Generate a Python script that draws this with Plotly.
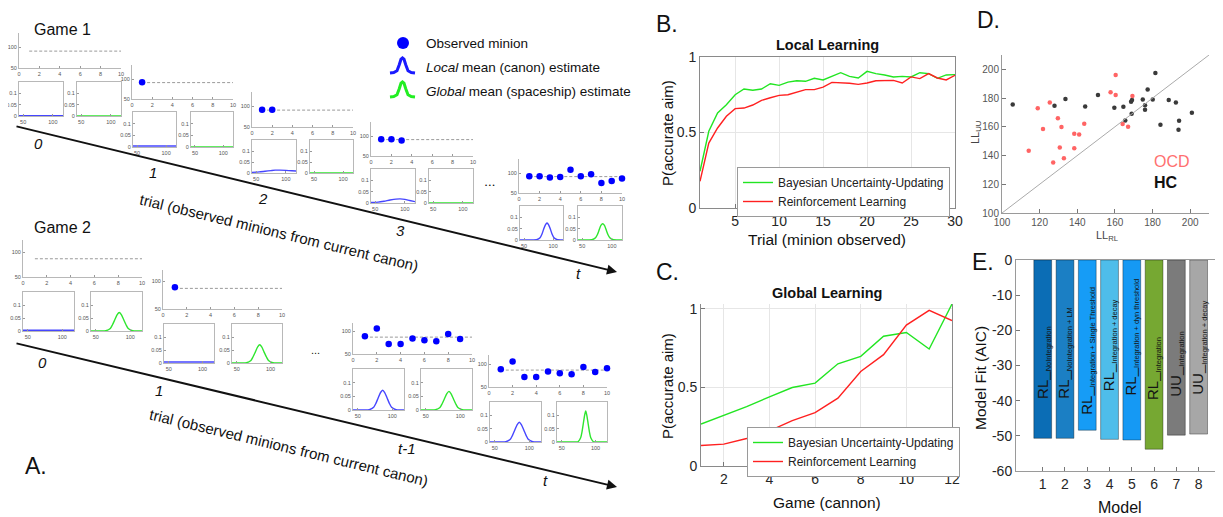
import plotly.graph_objects as go

# page body adds an 8px margin: figure is sized/positioned to compensate
OFF = 8
W, H = 1223 - OFF, 517 - OFF
FONT = "Liberation Sans, Arial, Helvetica, sans-serif"

# ---------------- Panel B: local learning ----------------
trial_b = list(range(1, 31))
local_uu = [0.243, 0.508, 0.63, 0.684, 0.75, 0.788, 0.78, 0.788, 0.823, 0.812,
            0.834, 0.843, 0.839, 0.859, 0.848, 0.874, 0.896, 0.872, 0.861, 0.905,
            0.89, 0.881, 0.868, 0.872, 0.868, 0.896, 0.89, 0.859, 0.881, 0.883]
local_rl = [0.177, 0.43, 0.53, 0.607, 0.658, 0.662, 0.682, 0.713, 0.73, 0.746,
            0.75, 0.768, 0.784, 0.784, 0.801, 0.832, 0.83, 0.826, 0.819, 0.828,
            0.843, 0.845, 0.845, 0.828, 0.868, 0.857, 0.89, 0.861, 0.848, 0.879]

# ---------------- Panel C: global learning ----------------
game_c = list(range(1, 13))
global_uu = [0.267, 0.32, 0.377, 0.44, 0.499, 0.527, 0.65, 0.697, 0.825, 0.849, 0.744, 1.03]
global_rl = [0.13, 0.139, 0.175, 0.224, 0.288, 0.339, 0.431, 0.601, 0.708, 0.896, 0.99, 0.925]

# ---------------- Panel D: log likelihoods ----------------
ocd_ll_rl = [114.2, 119.0, 121.8, 125.4, 127.2, 129.7, 130.7, 131.6, 132.9, 138.4,
             138.4, 141.0, 143.7, 157.7, 160.4, 160.4, 164.1, 167.0, 169.3]
ocd_ll_uu = [143.3, 173.0, 158.4, 177.0, 135.1, 166.0, 145.6, 159.8, 138.1, 155.1,
             145.1, 154.7, 162.1, 184.0, 196.0, 182.1, 161.9, 160.0, 181.4]
hc_ll_rl = [105.7, 127.9, 133.7, 144.2, 151.0, 159.7, 164.5, 165.5, 168.6, 169.1,
            168.9, 174.8, 176.0, 176.0, 177.4, 180.1, 181.5, 184.2, 188.6, 192.4,
            194.1, 193.8, 200.9]
hc_ll_uu = [175.6, 174.7, 179.3, 174.2, 182.1, 173.3, 174.0, 164.4, 177.4, 178.6,
            169.1, 179.1, 175.1, 171.9, 186.0, 179.1, 197.4, 161.4, 178.6, 177.0,
            164.2, 157.9, 169.8]

# ---------------- Panel E: model comparison ----------------
models = [1, 2, 3, 4, 5, 6, 7, 8]
aic = [-50.7, -50.7, -48.4, -51.0, -51.2, -53.8, -49.8, -49.5]
model_main = ["RL_", "RL_", "RL_", "RL_", "RL_", "RL_", "UU_", "UU_"]
model_sub = ["NoIntegration", "NoIntegration + LM", "Integration + Single Threshold",
             "Integration + decay", "Integration + dyn threshold", "Integration",
             "Integration", "Integration + decay"]
model_colors = ["#0b6db5", "#1b7fc4", "#169cf6", "#4ebdea", "#1599f4", "#76a832",
                "#7b7b7b", "#a7a7a7"]
label_base = [-40, -40, -44.5, -38, -39, -40.5, -39.5, -39]

# ---------------- Panel A: schematic data ----------------
obs_x = list(range(1, 11))
g1_obs = [92, 92, 89, 90, 108, 92, 97, 75, 80, 86]
g1_mean = 91
g2_obs = [89, 106, 72, 72, 84, 80, 78, 94, 83, 91]
g2_mean = 87

flat_x = [43, 117]
g1_t0_local_y = [0.001, 0.001]
g1_t0_global_y = [0.0, 0.0]
g1_t1_local_y = [0.004, 0.004]
g1_t1_global_y = [0.0, 0.0]
g1_t2_local_x = [43, 55, 65, 75, 82, 90, 100, 110, 117]
g1_t2_local_y = [0.003, 0.005, 0.008, 0.011, 0.013, 0.013, 0.012, 0.010, 0.009]
g1_t2_global_y = [0.0, 0.0]
g1_t3_local_x = [43, 55, 65, 75, 85, 92, 100, 108, 117]
g1_t3_local_y = [0.002, 0.004, 0.008, 0.013, 0.017, 0.018, 0.016, 0.011, 0.006]
g1_t3_global_y = [0.0, 0.0]
g1_tt_local_x = [43, 65.5, 71.5, 77.5, 80.5, 83.5, 86.5, 89.5, 92.5, 95.5, 98.5, 101.5, 107.5, 113.5, 117]
g1_tt_local_y = [0, 0, 0.001, 0.010, 0.024, 0.046, 0.066, 0.075, 0.066, 0.046, 0.024, 0.010, 0.001, 0, 0]
g1_tt_global_x = [43, 60.5, 66.5, 72.5, 75.5, 78.5, 81.5, 84.5, 87.5, 90.5, 93.5, 96.5, 102.5, 108.5, 117]
g1_tt_global_y = [0, 0, 0.001, 0.010, 0.023, 0.044, 0.064, 0.072, 0.064, 0.044, 0.023, 0.010, 0.001, 0, 0]

g2_t0_local_y = [0.003, 0.003]
g2_t0_global_x = [43, 58, 64.5, 71, 74, 77.5, 81, 84, 87, 90.5, 94, 97, 103.5, 110, 117]
g2_t0_global_y = [0, 0, 0.001, 0.0096, 0.023, 0.043, 0.063, 0.071, 0.063, 0.043, 0.023, 0.0096, 0.001, 0, 0]
g2_t1_local_y = [0.004, 0.004]
g2_t1_global_x = [43, 58, 64.5, 71, 74, 77.5, 81, 84, 87, 90.5, 94, 97, 103.5, 110, 117]
g2_t1_global_y = [0, 0, 0.001, 0.0095, 0.023, 0.042, 0.062, 0.070, 0.062, 0.042, 0.023, 0.0095, 0.001, 0, 0]
g2_tm1_local_x = [43, 60, 66.5, 73, 76, 79.5, 83, 86, 89, 92.5, 96, 99, 105.5, 112, 117]
g2_tm1_local_y = [0, 0, 0.001, 0.010, 0.023, 0.044, 0.064, 0.072, 0.064, 0.044, 0.023, 0.010, 0.001, 0, 0]
g2_tm1_global_x = [43, 57.5, 64, 70.5, 73.5, 77, 80.5, 83.5, 86.5, 90, 93.5, 96.5, 103, 109.5, 117]
g2_tm1_global_y = [0, 0, 0.001, 0.009, 0.022, 0.041, 0.060, 0.068, 0.060, 0.041, 0.022, 0.009, 0.001, 0, 0]
g2_tt_local_x = [43, 59.5, 66, 72.5, 75.5, 79, 82.5, 85.5, 88.5, 92, 95.5, 98.5, 105, 111.5, 117]
g2_tt_local_y = [0, 0, 0.001, 0.010, 0.024, 0.045, 0.065, 0.074, 0.065, 0.045, 0.024, 0.010, 0.001, 0, 0]
g2_tt_global_x = [43, 70, 74, 78, 80, 82, 84, 85.5, 87, 89, 91, 93, 97, 101, 117]
g2_tt_global_y = [0, 0, 0.001, 0.016, 0.038, 0.070, 0.102, 0.116, 0.102, 0.070, 0.038, 0.016, 0.001, 0, 0]

# ======================================================================
layout = dict(width=W, height=H, margin=dict(l=0, r=0, t=0, b=0, autoexpand=False),
              paper_bgcolor="white", plot_bgcolor="white",
              font=dict(family=FONT, color="#222"),
              showlegend=True, annotations=[], shapes=[])
fig = go.Figure()
ax_n = [0]


def PX(x):
    return (x - OFF) / W


def PY(y):
    return 1 - (y - OFF) / H


def make_axes(box, xr, yr, xs, ys):
    ax_n[0] += 1
    sfx = "" if ax_n[0] == 1 else str(ax_n[0])
    l, r, t, b = box
    layout["xaxis" + sfx] = dict(domain=[PX(l), PX(r)], range=xr, anchor="y" + sfx, **xs)
    layout["yaxis" + sfx] = dict(domain=[PY(b), PY(t)], range=yr, anchor="x" + sfx, **ys)
    return "x" + sfx, "y" + sfx


def mini_axis(vals, mirror):
    return dict(tickmode="array", tickvals=vals, ticks="inside", ticklen=2, tickwidth=0.6,
                tickcolor="#999", showline=True, linecolor="#b8b8b8", linewidth=1,
                mirror=mirror, showgrid=False, zeroline=False,
                tickfont=dict(size=5.5, color="#555", family=FONT), fixedrange=True)


def main_axis(vals, texts, size=14, grid=True, mirror=True, lc="#8a8a8a"):
    return dict(tickmode="array", tickvals=vals, ticktext=texts, ticks="inside", ticklen=4,
                tickcolor="#777", showline=True, linecolor=lc, linewidth=1, mirror=mirror,
                showgrid=grid, gridcolor="#e6e6e6", gridwidth=1, zeroline=False,
                tickfont=dict(size=size, color="#262626", family=FONT), fixedrange=True)


def text_px(x, y, s, size, color="#111", xanchor="center", yanchor="middle", **kw):
    layout["annotations"].append(dict(x=PX(x), y=PY(y), xref="paper", yref="paper", text=s,
                                      showarrow=False, xanchor=xanchor, yanchor=yanchor,
                                      font=dict(size=size, color=color, family=FONT), **kw))


BLUE_DOT = "#0000ff"
BLUE_LINE = "#4646ff"
GREEN_LINE = "#2ee62e"

# ---------------- Panel A mini panels ----------------
mini_panels = [
    dict(s=(19, 121, 33, 68), l=(19, 63, 82, 116), g=(77, 121, 82, 116), n=0, obs=g1_obs, mean=g1_mean, yr=[50, 135],
         lx=flat_x, ly=g1_t0_local_y, gx=flat_x, gy=g1_t0_global_y),
    dict(s=(132, 233, 65, 99), l=(133, 176, 112, 147), g=(191, 233, 112, 147), n=1, obs=g1_obs, mean=g1_mean, yr=[50, 135],
         lx=flat_x, ly=g1_t1_local_y, gx=flat_x, gy=g1_t1_global_y),
    dict(s=(252, 353, 92, 127), l=(252, 296, 140, 173), g=(310, 353, 140, 173), n=2, obs=g1_obs, mean=g1_mean, yr=[50, 135],
         lx=g1_t2_local_x, ly=g1_t2_local_y, gx=flat_x, gy=g1_t2_global_y),
    dict(s=(371, 473, 122, 156), l=(371, 415, 169, 203), g=(429, 473, 169, 203), n=3, obs=g1_obs, mean=g1_mean, yr=[50, 135],
         lx=g1_t3_local_x, ly=g1_t3_local_y, gx=flat_x, gy=g1_t3_global_y),
    dict(s=(519, 622, 159, 193), l=(520, 563, 206, 240), g=(578, 622, 206, 240), n=10, obs=g1_obs, mean=g1_mean, yr=[50, 135],
         lx=g1_tt_local_x, ly=g1_tt_local_y, gx=g1_tt_global_x, gy=g1_tt_global_y),
    dict(s=(23, 142, 240, 277), l=(23, 74, 292, 331), g=(91, 142, 292, 331), n=0, obs=g2_obs, mean=g2_mean, yr=[50, 125],
         lx=flat_x, ly=g2_t0_local_y, gx=g2_t0_global_x, gy=g2_t0_global_y),
    dict(s=(163, 282, 270, 309), l=(164, 214, 324, 363), g=(232, 282, 324, 363), n=1, obs=g2_obs, mean=g2_mean, yr=[50, 120],
         lx=flat_x, ly=g2_t1_local_y, gx=g2_t1_global_x, gy=g2_t1_global_y),
    dict(s=(353, 472, 323, 354), l=(353, 404, 369, 410), g=(421, 472, 369, 410), n=9, obs=g2_obs, mean=g2_mean, yr=[50, 118],
         lx=g2_tm1_local_x, ly=g2_tm1_local_y, gx=g2_tm1_global_x, gy=g2_tm1_global_y),
    dict(s=(489, 607, 355, 387), l=(490, 541, 402, 442), g=(557, 607, 402, 442), n=10, obs=g2_obs, mean=g2_mean, yr=[50, 120],
         lx=g2_tt_local_x, ly=g2_tt_local_y, gx=g2_tt_global_x, gy=g2_tt_global_y),
]

for p in mini_panels:
    xa, ya = make_axes(p["s"], [0, 10], p["yr"], mini_axis([0, 2, 4, 6, 8, 10], False), mini_axis([50, 100], False))
    fig.add_trace(go.Scatter(x=[obs_x[0], obs_x[-1]], y=[p["mean"], p["mean"]], mode="lines",
                             line=dict(color="#808080", width=0.8, dash="3px,2px"),
                             xaxis=xa, yaxis=ya, showlegend=False, hoverinfo="skip"))
    if p["n"] > 0:
        fig.add_trace(go.Scatter(x=obs_x[:p["n"]], y=p["obs"][:p["n"]], mode="markers",
                                 marker=dict(color=BLUE_DOT, size=6.5), cliponaxis=False,
                                 xaxis=xa, yaxis=ya, showlegend=False, hoverinfo="skip"))
    for key, xk, yk, col in (("l", "lx", "ly", BLUE_LINE), ("g", "gx", "gy", GREEN_LINE)):
        xa, ya = make_axes(p[key], [43, 117], [0, 0.15], mini_axis([50, 100], True), mini_axis([0, 0.05, 0.1], True))
        fig.add_trace(go.Scatter(x=p[xk], y=p[yk], mode="lines", line=dict(color=col, width=1.4, shape="spline", smoothing=0.6),
                                 cliponaxis=True, xaxis=xa, yaxis=ya, showlegend=False, hoverinfo="skip"))

# Panel A decorations
text_px(62, 29, "Game 1", 16)
text_px(62, 227, "Game 2", 16)
text_px(36, 466, "A.", 23)
for (x, y, s) in [(38, 143, "0"), (153, 172, "1"), (263, 198, "2"), (400, 230, "3"), (578, 273, "t"),
                  (42, 362, "0"), (159, 390, "1"), (407, 448, "t-1"), (545, 480, "t")]:
    text_px(x, y, "<i>%s</i>" % s, 15)
text_px(279, 233, "trial (observed minions from current canon)", 15, textangle=13.6)
text_px(289, 447, "trial (observed minions from current canon)", 15, textangle=13.6)
text_px(490, 185, "\u2022 \u2022 \u2022", 6)
text_px(315, 350, "...", 11)
for (x0, y0, x1, y1) in [(15, 126, 617, 272), (15, 343, 617, 487)]:
    layout["annotations"].append(dict(x=PX(x1), y=PY(y1), xref="paper", yref="paper", text="",
                                      showarrow=True, ax=x0 - x1, ay=y0 - y1, axref="pixel", ayref="pixel",
                                      arrowhead=2, arrowsize=1, arrowwidth=2, arrowcolor="#111", standoff=0))

# legend of panel A
layout["shapes"].append(dict(type="circle", xref="paper", yref="paper", x0=PX(397), x1=PX(409),
                             y0=PY(49), y1=PY(37), fillcolor="#0000ff", line=dict(width=0)))
ICON = [(0, 1.0), (0.15, 0.97), (0.28, 0.85), (0.37, 0.45), (0.44, 0.08), (0.5, 0.0),
        (0.56, 0.08), (0.63, 0.45), (0.72, 0.85), (0.85, 0.97), (1, 1.0)]


def icon_path(x0, y0, w, h):
    pts = ["%.5f,%.5f" % (PX(x0 + fx * w), PY(y0 + fy * h)) for fx, fy in ICON]
    return "M " + " L ".join(pts)


layout["shapes"].append(dict(type="path", xref="paper", yref="paper", path=icon_path(390, 58, 25, 15),
                             line=dict(color="#1a1aff", width=3)))
layout["shapes"].append(dict(type="path", xref="paper", yref="paper", path=icon_path(390, 82, 25, 15),
                             line=dict(color="#22ee22", width=3)))
text_px(424, 43, "Observed minion", 13.5, xanchor="left")
text_px(424, 67, "<i>Local</i> mean (canon) estimate", 13.5, xanchor="left")
text_px(424, 91, "<i>Global</i> mean (spaceship) estimate", 13.5, xanchor="left")

# ---------------- Panel B ----------------
xb, yb = make_axes((700, 955, 57, 208), [1, 30], [0, 1],
                   main_axis([5, 10, 15, 20, 25, 30], ["5", "10", "15", "20", "25", "30"]),
                   main_axis([0, 0.5, 1], ["0", "0.5", "1"]))
fig.add_trace(go.Scatter(x=trial_b, y=local_uu, mode="lines", name="Bayesian Uncertainty-Updating",
                         line=dict(color="#22e522", width=1.4), xaxis=xb, yaxis=yb, legend="legend"))
fig.add_trace(go.Scatter(x=trial_b, y=local_rl, mode="lines", name="Reinforcement Learning",
                         line=dict(color="#ff2020", width=1.4), xaxis=xb, yaxis=yb, legend="legend"))
text_px(667, 24, "B.", 23)
text_px(827, 45, "<b>Local Learning</b>", 14.5)
text_px(827, 239, "Trial (minion observed)", 15.5)
text_px(667, 133, "P(accurate aim)", 15, textangle=-90)

# ---------------- Panel C ----------------
xc, yc = make_axes((701, 952, 304, 466), [1, 12], [0, 1.03],
                   main_axis([2, 4, 6, 8, 10, 12], ["2", "4", "6", "8", "10", "12"], mirror=False),
                   main_axis([0, 0.5, 1], ["0", "0.5", "1"]))
fig.add_trace(go.Scatter(x=game_c, y=global_uu, mode="lines", name="Bayesian Uncertainty-Updating",
                         line=dict(color="#22e522", width=1.4), xaxis=xc, yaxis=yc, legend="legend2", cliponaxis=False))
fig.add_trace(go.Scatter(x=game_c, y=global_rl, mode="lines", name="Reinforcement Learning",
                         line=dict(color="#ff2020", width=1.4), xaxis=xc, yaxis=yc, legend="legend2"))
text_px(667, 272, "C.", 23)
text_px(827, 293, "<b>Global Learning</b>", 14.5)
text_px(827, 502, "Game (cannon)", 15.5)
text_px(667, 386, "P(accurate aim)", 15, textangle=-90)

leg_common = dict(xanchor="left", yanchor="top", bgcolor="white", bordercolor="#9a9a9a", borderwidth=1,
                  font=dict(size=12, color="#222", family=FONT), itemwidth=30, tracegroupgap=0)
layout["legend"] = dict(x=PX(737), y=PY(167), **leg_common)
layout["legend2"] = dict(x=PX(747), y=PY(427), **leg_common)

# ---------------- Panel D ----------------
d_ticks = [100, 120, 140, 160, 180, 200]
dx = main_axis(d_ticks, [str(v) for v in d_ticks], size=10, grid=False, mirror=False, lc="#9a9a9a")
dy = main_axis(d_ticks, [str(v) for v in d_ticks], size=10, grid=False, mirror=False, lc="#9a9a9a")
dx["tickfont"]["color"] = "#555"
dy["tickfont"]["color"] = "#555"
xd, yd = make_axes((1002, 1209, 55, 213), [100, 210], [100, 210], dx, dy)
layout["shapes"].append(dict(type="line", xref=xd, yref=yd, x0=100, y0=100, x1=210, y1=210,
                             line=dict(color="#aaaaaa", width=1)))
fig.add_trace(go.Scatter(x=hc_ll_rl, y=hc_ll_uu, mode="markers", marker=dict(color="#3a3a3a", size=4.5),
                         xaxis=xd, yaxis=yd, showlegend=False))
fig.add_trace(go.Scatter(x=ocd_ll_rl, y=ocd_ll_uu, mode="markers", marker=dict(color="#ff6464", size=4.5),
                         xaxis=xd, yaxis=yd, showlegend=False))
layout["annotations"].append(dict(x=179.6, y=135.6, xref=xd, yref=yd, text="OCD", showarrow=False,
                                  xanchor="left", yanchor="middle", font=dict(size=16, color="#ff7070", family=FONT)))
layout["annotations"].append(dict(x=179.6, y=121, xref=xd, yref=yd, text="<b>HC</b>", showarrow=False,
                                  xanchor="left", yanchor="middle", font=dict(size=16, color="#111", family=FONT)))
text_px(988, 20, "D.", 23)
text_px(1107, 236, "LL<sub>RL</sub>", 11, color="#444")
text_px(976, 133, "LL<sub>UU</sub>", 11, color="#444", textangle=-90)

# ---------------- Panel E ----------------
e_ticks = [-60, -50, -40, -30, -20, -10, 0]
ex = main_axis(models, [str(m) for m in models], size=14, grid=False, mirror=True, lc="#9a9a9a")
ey = main_axis(e_ticks, [str(v) for v in e_ticks], size=14, grid=False, mirror=False, lc="#9a9a9a")
xe, ye = make_axes((1016, 1222, 260, 471), [-0.2, 9.05], [-60, 0], ex, ey)
fig.add_trace(go.Bar(x=models, y=aic, width=0.8, marker=dict(color=model_colors, line=dict(color="rgba(0,0,0,0.35)", width=1)),
                     xaxis=xe, yaxis=ye, showlegend=False))
for m, base, main, sub in zip(models, label_base, model_main, model_sub):
    layout["annotations"].append(dict(x=m, y=base, xref=xe, yref=ye, showarrow=False, textangle=-90,
                                      xanchor="center", yanchor="bottom",
                                      text='%s<sub><span style="font-size:7.5px">%s</span></sub>' % (main, sub),
                                      font=dict(size=15, color="#151515", family=FONT)))
text_px(983, 262, "E.", 23)
text_px(1120, 507, "Model", 16)
text_px(980, 378, "Model Fit (AIC)", 15.5, textangle=-90)

fig.update_layout(**layout)
fig.write_html("out.html")
